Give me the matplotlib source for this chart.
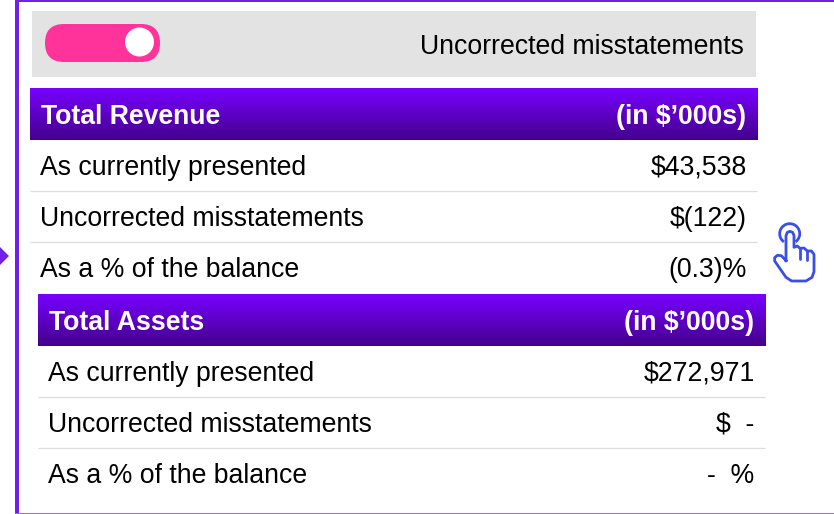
import numpy as np
import matplotlib
matplotlib.use('Agg')
import matplotlib.pyplot as plt
from matplotlib.patches import Rectangle, FancyBboxPatch, Circle, Polygon, Arc
from matplotlib.colors import LinearSegmentedColormap

plt.rcParams['font.family'] = ['Liberation Sans', 'DejaVu Sans']

toggle_label = 'Uncorrected misstatements'
unit_label = '(in $\u2019000s)'

section_titles = ['Total Revenue', 'Total Assets']
row_labels = ['As currently presented', 'Uncorrected misstatements', 'As a % of the balance']
revenue_values = ['$43,538', '$(122)', '(0.3)%']
assets_values = ['$272,971', '$  -', '-  %']

PURPLE = '#7020e8'
FS = 19.2
W, H = 834, 514

fig = plt.figure(figsize=(W / 100, H / 100), dpi=100)
ax = fig.add_axes([0, 0, 1, 1])
ax.set_xlim(0, W)
ax.set_ylim(H, 0)
ax.axis('off')

header_cmap = LinearSegmentedColormap.from_list('hdr', ['#7700ff', '#44008c'])
grad = np.linspace(0, 1, 52).reshape(-1, 1)

# frame
ax.add_patch(Rectangle((15, 0), 4, H, fc=PURPLE, ec='none'))
ax.add_patch(Rectangle((15, 0), W - 15, 2.4, fc=PURPLE, ec='none'))
ax.add_patch(Rectangle((15, 513), W - 15, 1, fc='#9a6ae0', ec='none'))
ax.add_patch(Polygon([(0, 247), (9, 256), (0, 265)], fc=PURPLE, ec='none'))

# toggle bar
ax.add_patch(Rectangle((32, 11), 724, 66, fc='#e3e3e3', ec='none'))
ax.add_patch(FancyBboxPatch((45, 24), 115, 38, boxstyle='round,pad=0,rounding_size=19',
                            fc='#ff3399', ec='none'))
ax.add_patch(Circle((139.5, 42), 14.5, fc='white', ec='none'))
ax.text(744, 54, toggle_label, ha='right', va='baseline', fontsize=FS, color='black')


def draw_section(x0, y0, title, values):
    x1 = x0 + 728
    ax.imshow(grad, cmap=header_cmap, extent=(x0, x1, y0 + 52, y0), aspect='auto', zorder=1)
    ax.text(x0 + 11, y0 + 36, title, ha='left', va='baseline', fontsize=FS,
            fontweight='bold', color='white', zorder=2)
    ax.text(x1 - 11.5, y0 + 36, unit_label, ha='right', va='baseline', fontsize=FS,
            fontweight='bold', color='white', zorder=2)
    for i, (lab, val) in enumerate(zip(row_labels, values)):
        yb = y0 + 87 + 51 * i
        ax.text(x0 + 10, yb, lab, ha='left', va='baseline', fontsize=FS, color='black')
        ax.text(x1 - 11.5, yb, val, ha='right', va='baseline', fontsize=FS, color='black')
        if i < 2:
            ax.plot([x0, x1 - 1], [y0 + 103 + 51 * i] * 2, color='#dedede', lw=0.9,
                    solid_capstyle='butt')


draw_section(30, 88, section_titles[0], revenue_values)
draw_section(38, 294, section_titles[1], assets_values)
ax.set_xlim(0, W)
ax.set_ylim(H, 0)

# pointer hand icon
HAND = '#3a4ee8'
hand = np.array([(258, 212), (258, 137), (262, 127), (270, 124), (278, 127), (282, 137), (282, 172),
                 (292, 168), (300, 175), (312, 174), (322, 183), (334, 183), (342, 193), (342, 245),
                 (336, 262), (318, 273), (275, 273), (258, 262), (224, 213), (224, 203), (232, 196),
                 (244, 197), (258, 212)], dtype=float)
hand = hand / 3 + (700, 190)
ax.plot(hand[:, 0], hand[:, 1], color=HAND, lw=2.0, solid_joinstyle='round')
for xz, y0z, y1z in [(300, 175, 207), (322, 183, 210)]:
    ax.plot([700 + xz / 3] * 2, [190 + y0z / 3, 190 + y1z / 3], color=HAND, lw=2.0,
            solid_capstyle='round')
ax.add_patch(Arc((789.7, 233.7), 20, 20, theta1=125, theta2=55, color=HAND, lw=2.0))

fig.savefig('out.png', dpi=100)
